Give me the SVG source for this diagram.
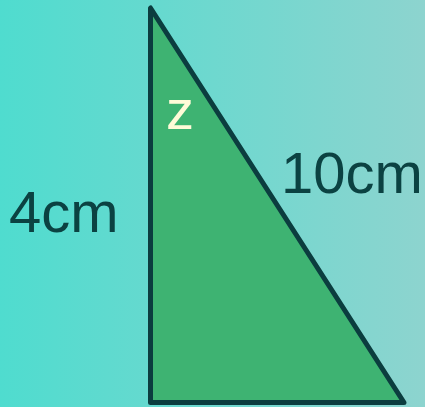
<svg xmlns="http://www.w3.org/2000/svg" width="425" height="407" viewBox="0 0 425 407">
<defs>
<linearGradient id="bg" x1="0" y1="0" x2="1" y2="0">
<stop offset="0" stop-color="#4fdccf"/>
<stop offset="1" stop-color="#8dd4cf"/>
</linearGradient>
</defs>
<style>
.lbl{font-family:"Liberation Sans",Arial,sans-serif;font-size:58px;fill:#0b4242}
.ang{font-family:"Liberation Sans",Arial,sans-serif;font-size:56px;fill:#fffbd8}
</style>
<rect width="425" height="407" fill="url(#bg)"/>
<g id="triangle">
<polygon points="150.5,8 150.5,402.5 404,402.5" fill="#3eb372" stroke="#0b3d3f" stroke-width="5" stroke-linejoin="round"/>
</g>
<g id="labels">
<text class="lbl" x="9" y="232">4cm</text>
<text class="lbl" x="281" y="193">10cm</text>
<text class="ang" x="166" y="129">z</text>
</g>
</svg>
